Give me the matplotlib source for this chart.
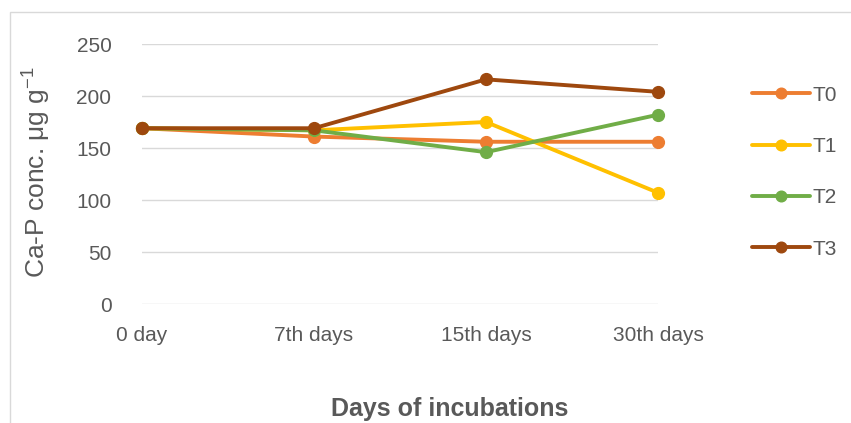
import matplotlib
matplotlib.use("Agg")
import matplotlib.pyplot as plt
from matplotlib.patches import Rectangle

plt.rcParams['font.family'] = ['Liberation Sans', 'DejaVu Sans']
plt.rcParams['mathtext.fontset'] = 'custom'
plt.rcParams['mathtext.rm'] = 'Liberation Sans'
plt.rcParams['mathtext.it'] = 'Liberation Sans'

days = ["0 day", "7th days", "15th days", "30th days"]
t0 = [169, 161, 156, 156]
t1 = [169, 167, 175, 107]
t2 = [169, 167, 146, 182]
t3 = [169, 169, 216, 204]
series = ["T0", "T1", "T2", "T3"]
colors = ["#ED7D31", "#FFC000", "#70AD47", "#9E480E"]

fig = plt.figure(figsize=(8.51, 4.23), dpi=100)
fig.patches.append(Rectangle((10/851, -0.1), 1.2, 1 - 12/423 + 0.1,
                             transform=fig.transFigure, fill=False,
                             edgecolor="#d9d9d9", lw=1))
ax = fig.add_axes([142/851, 1 - 304/423, 516/851, 260/423])

x = range(len(days))
for vals, name, c in zip([t0, t1, t2, t3], series, colors):
    ax.plot(x, vals, color=c, lw=2.8, marker='o', markersize=8.5, label=name,
            solid_capstyle='round', clip_on=False)

ax.set_xlim(0, 3)
ax.set_ylim(0, 250)
ax.set_yticks([0, 50, 100, 150, 200, 250])
ax.set_xticks(list(x))
ax.set_xticklabels(days)
ax.grid(axis='y', color="#d9d9d9", lw=1)
ax.set_axisbelow(True)
for s in ax.spines.values():
    s.set_visible(False)
ax.tick_params(length=0, labelsize=15, labelcolor="#595959")
ax.tick_params(axis='y', pad=22)
ax.tick_params(axis='x', pad=16)

fig.text(37/851, 1 - 172/423, "Ca-P conc. μg g$^{-1}$", rotation=90,
         ha='center', va='center', fontsize=19, color="#595959")
fig.text(450/851, 1 - 409/423, "Days of incubations", ha='center', va='center',
         fontsize=18, fontweight='bold', color="#595959")

ax.legend(loc='upper left', bbox_to_anchor=(733/851, 1 - 67/423),
          bbox_transform=fig.transFigure, frameon=False, fontsize=15,
          labelcolor="#595959", handlelength=2.8, handletextpad=0.1,
          labelspacing=1.55, markerscale=0.9)

fig.savefig("out.png", dpi=100)
